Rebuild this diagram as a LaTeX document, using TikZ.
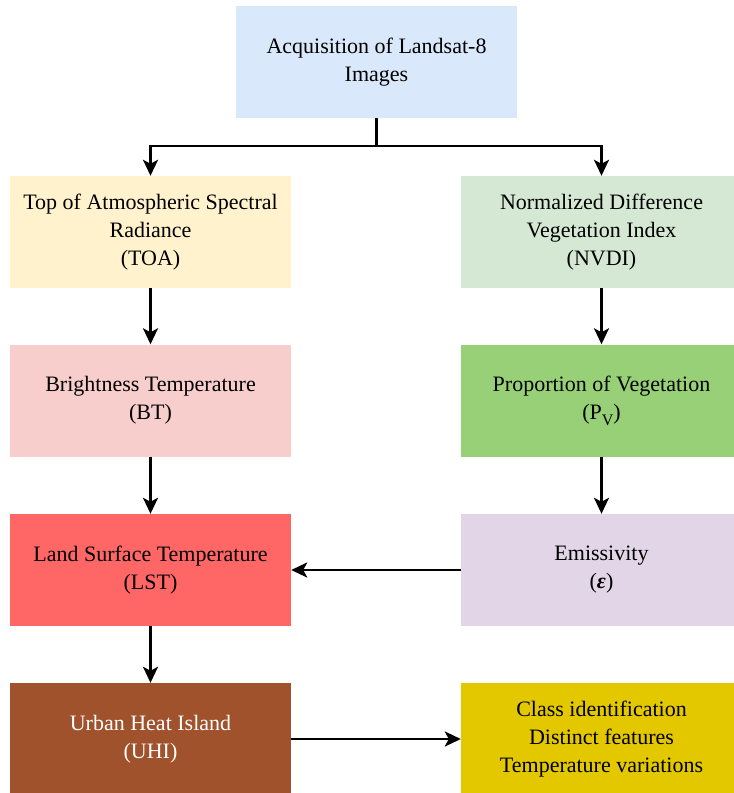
\documentclass[tikz,border=0pt]{standalone}
\usepackage{fontspec}
\setmainfont{Liberation Serif}
\usetikzlibrary{arrows.meta}
\definecolor{cTop}{HTML}{DAE8FC}
\definecolor{cToa}{HTML}{FFF2CC}
\definecolor{cNdvi}{HTML}{D5E8D4}
\definecolor{cBt}{HTML}{F8CECC}
\definecolor{cPv}{HTML}{97D077}
\definecolor{cLst}{HTML}{FF6666}
\definecolor{cEmi}{HTML}{E1D5E7}
\definecolor{cUhi}{HTML}{A0522D}
\definecolor{cCls}{HTML}{E3C800}
\begin{document}
\begin{tikzpicture}[x=1pt,y=-1pt,
  box/.style={minimum width=281pt,minimum height=112pt,inner sep=0pt,align=center,
    font=\fontsize{22}{28}\selectfont,text=black},
  link/.style={line width=2.5pt,line join=miter},
  arr/.style={link,-{Stealth[length=16pt,width=15pt,inset=4pt]}}]
\useasboundingbox (0,0) rectangle (734,793);
\node[box,fill=cTop] (acq) at (376.5,62) {Acquisition of Landsat-8\\Images};
\node[box,fill=cToa] (toa) at (150.5,232) {Top of Atmospheric Spectral\\Radiance\\(TOA)};
\node[box,fill=cNdvi] (ndvi) at (601.5,232) {Normalized Difference\\Vegetation Index\\(NVDI)};
\node[box,fill=cBt] (bt) at (150.5,400.5) {Brightness Temperature\\(BT)};
\node[box,fill=cPv] (pv) at (601.5,400.5) {Proportion of Vegetation\\(P\raisebox{-0.28em}{\fontsize{16}{16}\selectfont V})};
\node[box,fill=cLst] (lst) at (150.5,570) {Land Surface Temperature\\(LST)};
\node[box,fill=cEmi] (emi) at (601.5,570) {Emissivity\\({\bfseries\itshape ε})};
\node[box,fill=cUhi,text=white] (uhi) at (150.5,739) {Urban Heat Island\\(UHI)};
\node[box,fill=cCls] (cls) at (601.5,739) {Class identification\\Distinct features\\Temperature variations};
\draw[link] (acq.south) -- ++(0,28) coordinate (j);
\draw[arr] (j) -| (toa.north);
\draw[arr] (j) -| (ndvi.north);
\draw[arr] (toa) -- (bt);
\draw[arr] (bt) -- (lst);
\draw[arr] (lst) -- (uhi);
\draw[arr] (ndvi) -- (pv);
\draw[arr] (pv) -- (emi);
\draw[arr] (emi) -- (lst);
\draw[arr] (uhi) -- (cls);
\end{tikzpicture}
\end{document}
